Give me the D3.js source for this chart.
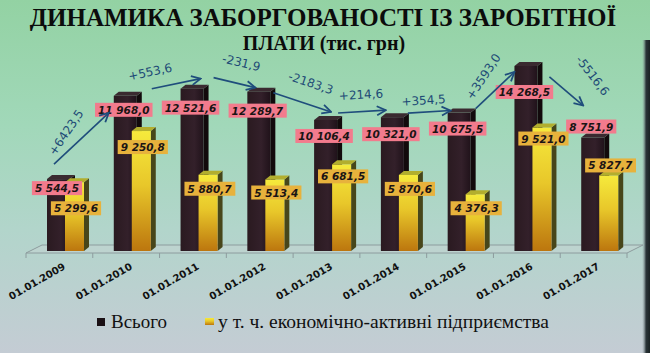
<!DOCTYPE html>
<html>
<head>
<meta charset="utf-8">
<script src="https://cdn.jsdelivr.net/npm/d3@7"></script>
<style>
  html, body { margin: 0; padding: 0; }
  svg { display: block; }
</style>
</head>
<body>
<svg width="650" height="353"></svg>
<script>
const DATES = ['01.01.2009', '01.01.2010', '01.01.2011', '01.01.2012', '01.01.2013',
  '01.01.2014', '01.01.2015', '01.01.2016', '01.01.2017'];
const TOTAL = [5544.5, 11968.0, 12521.6, 12289.7, 10106.4, 10321.0, 10675.5, 14268.5, 8751.9];
const ACTIVE = [5299.6, 9250.8, 5880.7, 5513.4, 6681.5, 5870.6, 4376.3, 9521.0, 5827.7];
const SERIES_NAMES = ['Всього', 'у т. ч. економічно-активні підприємства'];
const TITLE = ['ДИНАМИКА ЗАБОРГОВАНОСТІ ІЗ ЗАРОБІТНОЇ', 'ПЛАТИ (тис. грн)'];

// label nudges (px, relative to bar tops)
const totalLabelDy = [13, 18, 23, 23, 20, 21, 20, 30, -7];
const activeLabelDy = [30, 20, 18, 17, 16, 18, 18, 15, -6];
const arrowFrom = [[7, -11], [38, -3], [33, -7], [26, 5], [24, -3], [27, 0], [28, 0], [35, 15]];
const arrowTo = [[-5, 21], [20, -6], [8, 0], [17, -4], [5, -3], [3, 2], [0, 10], [2, -28]];
const deltaShift = [[-7, 15], [-23, 17], [2, 21], [2, 21], [0, 17], [-5, 12], [1, 18], [10, 29]];

const W = 650, H = 353;
const DEPTH_X = 5, DEPTH_Y = -4;
const SERIF = 'Liberation Serif';
const SANS = 'DejaVu Sans';

const loc = d3.formatLocale({ decimal: ',', thousands: ' ', grouping: [3], currency: ['', ''], minus: '-' });
const fmtVal = loc.format(',.1f');
const fmtDelta = loc.format('+.1f');

const svg = d3.select('svg');
const defs = svg.append('defs');

const bg = defs.append('linearGradient').attr('id', 'bg').attr('x1', 0).attr('y1', 0).attr('x2', 0).attr('y2', 1);
bg.append('stop').attr('offset', 0).attr('stop-color', '#93d2a3');
bg.append('stop').attr('offset', 0.35).attr('stop-color', '#a1d8b9');
bg.append('stop').attr('offset', 0.65).attr('stop-color', '#b2d5cb');
bg.append('stop').attr('offset', 1).attr('stop-color', '#c4ccd4');

const yel = defs.append('linearGradient').attr('id', 'yel').attr('x1', 0).attr('y1', 0).attr('x2', 0).attr('y2', 1);
yel.append('stop').attr('offset', 0).attr('stop-color', '#f6ea3c');
yel.append('stop').attr('offset', 0.45).attr('stop-color', '#e8c72a');
yel.append('stop').attr('offset', 1).attr('stop-color', '#bc760e');

const blk = defs.append('linearGradient').attr('id', 'blk').attr('x1', 0).attr('y1', 0).attr('x2', 1).attr('y2', 0);
blk.append('stop').attr('offset', 0).attr('stop-color', '#2a1a20');
blk.append('stop').attr('offset', 0.6).attr('stop-color', '#33202a');
blk.append('stop').attr('offset', 1).attr('stop-color', '#20121a');

const edge = defs.append('linearGradient').attr('id', 'edge').attr('x1', 0).attr('y1', 0).attr('x2', 1).attr('y2', 0);
edge.append('stop').attr('offset', 0).attr('stop-color', '#9aa8ac').attr('stop-opacity', 0);
edge.append('stop').attr('offset', 0.5).attr('stop-color', '#2a3438').attr('stop-opacity', 1);
edge.append('stop').attr('offset', 1).attr('stop-color', '#1a2224').attr('stop-opacity', 1);

defs.append('marker')
  .attr('id', 'head')
  .attr('viewBox', '0 0 10 10')
  .attr('refX', 9).attr('refY', 5)
  .attr('markerWidth', 7).attr('markerHeight', 7)
  .attr('orient', 'auto')
  .append('path')
  .attr('d', 'M1,1 L9,5 L1,9')
  .attr('fill', 'none')
  .attr('stroke', '#1f4d7c')
  .attr('stroke-width', 1.6);

svg.append('rect').attr('width', W).attr('height', H).attr('fill', 'url(#bg)');
svg.append('rect').attr('x', 642).attr('y', 40).attr('width', 8).attr('height', H - 40).attr('fill', 'url(#edge)');

// title
svg.append('text')
  .attr('x', 323).attr('y', 26)
  .attr('text-anchor', 'middle')
  .style('font-family', SERIF).style('font-weight', 'bold').style('font-size', '25px')
  .attr('fill', '#0c0c0c')
  .text(TITLE[0]);
svg.append('text')
  .attr('x', 324).attr('y', 50)
  .attr('text-anchor', 'middle')
  .style('font-family', SERIF).style('font-weight', 'bold').style('font-size', '20px')
  .attr('fill', '#0c0c0c')
  .text(TITLE[1]);

const x = d3.scaleBand().domain(DATES).range([26, 627]);
const y = d3.scaleLinear().domain([0, 15000]).range([251, 56.5]);
const bw = x.bandwidth();

// floor
const floorY = 253;
svg.append('path')
  .attr('d', `M26,${floorY} L627,${floorY} L643,${floorY - 8} L42,${floorY - 8} Z`)
  .attr('fill', '#c6d3d2')
  .attr('fill-opacity', 0.5)
  .attr('stroke', '#8d9c9e')
  .attr('stroke-width', 1);
svg.append('g')
  .selectAll('line')
  .data(DATES.concat(['end']))
  .join('line')
  .attr('x1', (d, i) => 26 + i * bw)
  .attr('x2', (d, i) => 26 + i * bw)
  .attr('y1', floorY)
  .attr('y2', floorY + 5)
  .attr('stroke', '#8d9c9e');

function bar3d(g, x0, w, v, front, side, cap) {
  const top = y(v), base = y(0);
  g.append('path')
    .attr('d', `M${x0 + w},${base} L${x0 + w + DEPTH_X},${base + DEPTH_Y} L${x0 + w + DEPTH_X},${top + DEPTH_Y} L${x0 + w},${top} Z`)
    .attr('fill', side);
  g.append('rect')
    .attr('x', x0).attr('y', top)
    .attr('width', w).attr('height', base - top)
    .attr('fill', front);
  g.append('path')
    .attr('d', `M${x0},${top} L${x0 + DEPTH_X},${top + DEPTH_Y} L${x0 + w + DEPTH_X},${top + DEPTH_Y} L${x0 + w},${top} Z`)
    .attr('fill', cap);
}

const bars = svg.append('g');
DATES.forEach((d, i) => {
  const g = bars.append('g');
  bar3d(g, x(d) + 21, 23, TOTAL[i], 'url(#blk)', '#120a0c', '#3a2a30');
  bar3d(g, x(d) + 39, 19, ACTIVE[i], 'url(#yel)', '#47461a', '#b2ae2e');
});

// value labels
function valueLabel(cx, cy, txt, fill) {
  const g = svg.append('g');
  const t = g.append('text')
    .attr('x', cx).attr('y', cy + 4)
    .attr('text-anchor', 'middle')
    .style('font-family', SANS).style('font-weight', 'bold').style('font-style', 'italic').style('font-size', '10.5px')
    .attr('fill', '#1a1414')
    .text(txt);
  const bb = t.node().getBBox();
  g.insert('rect', 'text')
    .attr('x', bb.x - 3).attr('y', cy - 7)
    .attr('width', bb.width + 6).attr('height', 14)
    .attr('fill', fill);
}

DATES.forEach((d, i) => {
  valueLabel(x(d) + 21 + 11.5 - 1.5, y(TOTAL[i]) + DEPTH_Y + totalLabelDy[i], fmtVal(TOTAL[i]), '#f27b8d');
});
DATES.forEach((d, i) => {
  valueLabel(x(d) + 39 + 9.5 + 1.5, y(ACTIVE[i]) + DEPTH_Y + activeLabelDy[i], fmtVal(ACTIVE[i]), '#e7b23c');
});

// change arrows
const arrows = svg.append('g');
for (let i = 0; i < DATES.length - 1; i++) {
  const x1 = x(DATES[i]) + 21 + arrowFrom[i][0];
  const y1 = y(TOTAL[i]) + DEPTH_Y + arrowFrom[i][1];
  const x2 = x(DATES[i + 1]) + 21 + arrowTo[i][0];
  const y2 = y(TOTAL[i + 1]) + DEPTH_Y + arrowTo[i][1];
  arrows.append('line')
    .attr('x1', x1).attr('y1', y1)
    .attr('x2', x2).attr('y2', y2)
    .attr('stroke', '#1f4d7c')
    .attr('stroke-width', 1.6)
    .attr('marker-end', 'url(#head)');

  const len = Math.hypot(x2 - x1, y2 - y1);
  const ux = (x2 - x1) / len, uy = (y2 - y1) / len;
  // normal pointing upward
  let nx = uy, ny = -ux;
  if (ny > 0) { nx = -nx; ny = -ny; }
  const mx = (x1 + x2) / 2 + ux * deltaShift[i][0] + nx * deltaShift[i][1];
  const my = (y1 + y2) / 2 + uy * deltaShift[i][0] + ny * deltaShift[i][1];
  let ang = Math.atan2(y2 - y1, x2 - x1) * 180 / Math.PI;
  // the slide tilts the text on the steep arrows a bit more than the arrow itself
  if (Math.abs(ang) > 30) ang *= 1.3;
  arrows.append('text')
    .attr('transform', `translate(${mx},${my}) rotate(${ang})`)
    .attr('text-anchor', 'middle')
    .attr('dy', '0.35em')
    .style('font-family', SANS).style('font-size', '12px')
    .attr('fill', '#1d4a76')
    .text(fmtDelta(TOTAL[i + 1] - TOTAL[i]));
}

// category labels
svg.append('g')
  .selectAll('text')
  .data(DATES)
  .join('text')
  .attr('transform', d => `translate(${x(d) + bw / 2 + 3},${262}) rotate(-30)`)
  .attr('text-anchor', 'end')
  .attr('dy', '0.75em')
  .style('font-family', SANS).style('font-weight', 'bold').style('font-size', '10px')
  .attr('fill', '#111')
  .text(d => d);

// legend
const legend = svg.append('g');
legend.append('rect').attr('x', 97).attr('y', 318).attr('width', 8).attr('height', 8).attr('fill', '#1a1014');
legend.append('text').attr('x', 111).attr('y', 328)
  .style('font-family', SERIF).style('font-size', '18px').attr('fill', '#111')
  .attr('textLength', 56).attr('lengthAdjust', 'spacingAndGlyphs')
  .text(SERIES_NAMES[0]);
legend.append('rect').attr('x', 205).attr('y', 318).attr('width', 9).attr('height', 7).attr('fill', 'url(#yel)');
legend.append('text').attr('x', 218).attr('y', 328)
  .style('font-family', SERIF).style('font-size', '18px').attr('fill', '#111')
  .attr('textLength', 331).attr('lengthAdjust', 'spacingAndGlyphs')
  .text(SERIES_NAMES[1]);
</script>
</body>
</html>
